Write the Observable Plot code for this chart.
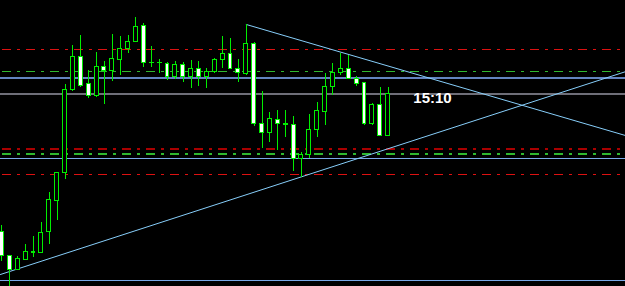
<!DOCTYPE html>
<html><head><meta charset="utf-8">
<script src="https://cdn.jsdelivr.net/npm/d3@7"></script>
<script src="https://cdn.jsdelivr.net/npm/@observablehq/plot@0.6"></script>
<style>html,body{margin:0;padding:0;background:#000;overflow:hidden}#chart svg{display:block}</style>
</head><body><div id="chart"></div>
<script>
// Candles (bar index 0..49), prices in arbitrary chart units
const opens  = [68.3,44.3,31,41,48,47.5,68.3,99.8,127.7,210.7,244,216.7,205,234,229.3,240.7,251.3,259,275,237.3,237.5,236.7,223.3,235.7,223.3,231.7,223.3,229,240.7,246.7,231.7,226.7,256.7,176.7,167.7,180.7,176,175.7,141.7,145.7,170.7,188.7,213.3,227.7,231.7,221.7,217.3,176.3,195.7,164.7];
const highs  = [75.3,44.5,44.5,56,64,77.8,107.7,127.7,215.7,255,265,230,248.3,239,266,264,265,283.3,276.7,254,241,238.5,239,238.3,240,239,232.3,241.7,264,261.7,240.7,276,258.3,209,188,190,190,184,148.3,186,198.3,226.7,236.7,246.7,245,224,218,197.3,212.7,212.7];
const lows   = [39,10,30,39.7,43.5,47.5,56,80,120.7,209.3,212.7,202,203.3,196,219.3,225,247.3,257.7,233.3,232.7,226.7,220.5,221,218.3,211.7,214,211.7,226.7,231.7,230.7,218.3,225,174.3,151.7,158.3,150,162.7,129.5,123.5,141.7,162.7,175,205,225,220.7,214.3,175,175,164.7,164.7];
const closes = [44.3,31,41.5,48.3,48.5,67.7,100.5,127.7,210.7,244,215,204.2,234,229.3,241.7,251.7,259,273.3,237.7,237.7,238,223.3,235.7,223.3,231.7,224,229,240.7,246.7,231.7,227.7,256.7,176.7,167.7,181.7,176.7,176.5,141.7,145.7,170.7,189.7,213.3,228,231.7,221.7,216.7,176.7,196,164.7,206.7];

// Horizontal levels
const dashRedLevels = [251, 125.7];
const dashDarkRedLevels = [151.5];
const dashGreenLevels = [229, 146.5];
const solidSteelLevels = [223];
const solidGrayLevels = [206.5];
const solidBlueLevels = [142, 20];

// Trend lines (bar index, price)
const trendDownIdx = [31, 79.2];
const trendDownPrice = [276, 164.8];
const trendUpIdx = [-0.2, 79.2];
const trendUpPrice = [26, 229];

// Time label
const labelText = ["15:10"];
const labelIdx = [52.2];
const labelPrice = [202.5];

const candles = opens.map((o, i) => ({i, open: o, high: highs[i], low: lows[i], close: closes[i]}));
const bear = candles.filter(d => d.close < d.open);
const bull = candles.filter(d => d.close >= d.open);
const tDown = trendDownIdx.map((x, k) => ({i: x, p: trendDownPrice[k]}));
const tUp = trendUpIdx.map((x, k) => ({i: x, p: trendUpPrice[k]}));
const labels = labelText.map((t, k) => ({t, i: labelIdx[k], p: labelPrice[k]}));

const green = "#00ee00";
const dash = "9,6,3,6";
const off = 22.3;

const chart = Plot.plot({
  width: 625, height: 286, margin: 0,
  style: {background: "#000"},
  x: {type: "linear", domain: [-0.19, 79.125], axis: null},
  y: {domain: [14, 300], axis: null},
  marks: [
    Plot.ruleY(solidGrayLevels, {stroke: "#6e6e78", strokeWidth: 2, shapeRendering: "crispEdges"}),
    Plot.ruleY(solidSteelLevels, {stroke: "#6384c0", strokeWidth: 2, shapeRendering: "crispEdges"}),
    Plot.ruleY(solidBlueLevels, {stroke: "#7aa8e8", strokeWidth: 1, shapeRendering: "crispEdges"}),
    Plot.ruleY(dashRedLevels, {stroke: "#dd1111", strokeWidth: 1, strokeDasharray: dash, strokeDashoffset: off, shapeRendering: "crispEdges"}),
    Plot.ruleY(dashDarkRedLevels, {stroke: "#aa0000", strokeWidth: 2, strokeDasharray: dash, strokeDashoffset: off, shapeRendering: "crispEdges"}),
    Plot.ruleY(dashGreenLevels, {stroke: "#2fb82f", strokeWidth: 1.5, strokeDasharray: dash, strokeDashoffset: off, shapeRendering: "crispEdges"}),
    Plot.line(tDown, {x: "i", y: "p", stroke: "#87cefa", strokeWidth: 1}),
    Plot.line(tUp, {x: "i", y: "p", stroke: "#87cefa", strokeWidth: 1}),
    Plot.ruleX(candles, {x: "i", y1: "low", y2: "high", stroke: green, strokeWidth: 1, shapeRendering: "crispEdges"}),
    Plot.rect(bull, {x1: d => d.i - 0.25, x2: d => d.i + 0.25, y1: "open", y2: "close", fill: "#000", stroke: green, strokeWidth: 1, shapeRendering: "crispEdges"}),
    Plot.rect(bear, {x1: d => d.i - 0.25, x2: d => d.i + 0.25, y1: "open", y2: "close", fill: "#fff", stroke: green, strokeWidth: 1, shapeRendering: "crispEdges"}),
    Plot.text(labels, {x: "i", y: "p", text: "t", fill: "#fff", textAnchor: "start", fontFamily: "Liberation Sans, Arial, sans-serif", fontWeight: "bold", fontSize: 15})
  ]
});
document.getElementById("chart").appendChild(chart);
</script>
</body></html>
